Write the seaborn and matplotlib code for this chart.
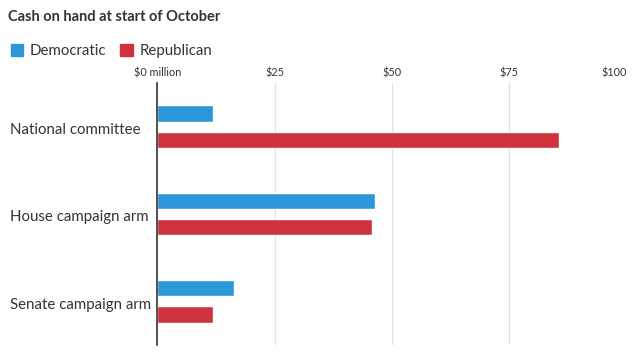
import pandas as pd
import matplotlib.pyplot as plt
import matplotlib.transforms as mtransforms
import seaborn as sns
from matplotlib.patches import Patch

# data, in $ million
groups = ['National committee', 'House campaign arm', 'Senate campaign arm']
democratic = [11.9, 46.4, 16.4]
republican = [85.6, 45.8, 11.9]
parties = ['Democratic', 'Republican']
ticks = [0, 25, 50, 75, 100]
tick_labels = ['$0 million', '$25', '$50', '$75', '$100']

colors = {'Democratic': '#2b97d9', 'Republican': '#cf323c'}
txt = '#333333'

df = pd.DataFrame({
    'group': groups * 2,
    'party': ['Democratic'] * 3 + ['Republican'] * 3,
    'cash': democratic + republican,
})

sns.set_style('white')
plt.rcParams['font.family'] = ['Lato', 'DejaVu Sans']

fig = plt.figure(figsize=(6.38, 3.52), dpi=100)
ax = fig.add_axes([157.3 / 638, 7 / 352, 469.4 / 638, 262 / 352])

sns.barplot(data=df, y='group', x='cash', hue='party', order=groups,
            hue_order=parties, palette=colors, width=0.6, gap=0.38,
            orient='h', ax=ax, legend=False, saturation=1)

ax.set_xlim(0, 100)
ax.set_ylim(2.5, -0.5)
ax.set_xlabel('')
ax.set_ylabel('')
for s in ['top', 'right', 'bottom']:
    ax.spines[s].set_visible(False)
ax.spines['left'].set_color('#222222')
ax.spines['left'].set_linewidth(1.1)

ax.xaxis.tick_top()
ax.set_xticks(ticks)
ax.set_xticklabels(tick_labels, fontsize=7.8, color=txt)
ax.tick_params(axis='x', length=0, pad=3)
ax.get_xticklabels()[-1].set_ha('right')
for t in ticks[1:]:
    ax.axvline(t, color='#e0e0e0', lw=0.9, zorder=0)

# group names left-aligned near the figure edge, nudged down a little
ax.tick_params(axis='y', length=0, pad=106)
shift = mtransforms.ScaledTranslation(0, -3.5 / 100, fig.dpi_scale_trans)
for lab in ax.get_yticklabels():
    lab.set_ha('left')
    lab.set_va('center')
    lab.set_fontsize(10.8)
    lab.set_color(txt)
    lab.set_transform(lab.get_transform() + shift)

fig.text(8 / 638, 1 - 17 / 352, 'Cash on hand at start of October',
         fontsize=10.5, fontweight='bold', color=txt, va='center', ha='left')

handles = [Patch(color=colors[p]) for p in parties]
fig.legend(handles, parties, loc='center left',
           bbox_to_anchor=(-3 / 638, 1 - 51 / 352), ncol=2, frameon=False,
           fontsize=10.8, handlelength=0.85, handleheight=0.85,
           handletextpad=0.45, columnspacing=0.9, labelcolor=txt)

fig.savefig('out.png', dpi=100)
